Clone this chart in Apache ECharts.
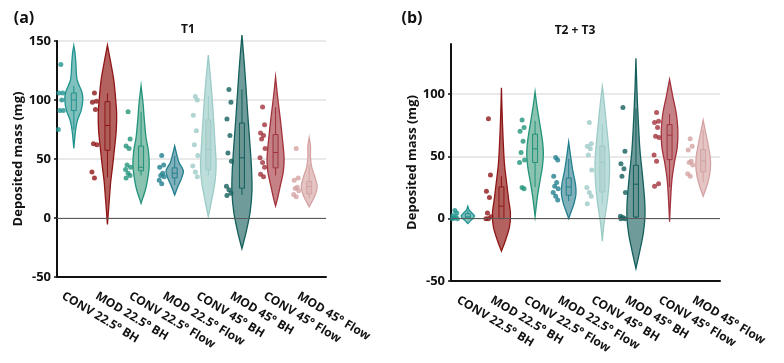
<!DOCTYPE html>
<html>
<head>
<meta charset="utf-8">
<script src="https://cdn.jsdelivr.net/npm/echarts@6.0.0/dist/echarts.min.js"></script>
<style>
  html, body { margin: 0; padding: 0; background: #fff; }
  #chart { width: 784px; height: 363px; }
</style>
</head>
<body>
<div id="chart"></div>
<script>
// groups on the x axis
const categories = ['CONV 22.5° BH', 'MOD 22.5° BH', 'CONV 22.5° Flow', 'MOD 22.5° Flow',
  'CONV 45° BH', 'MOD 45° BH', 'CONV 45° Flow', 'MOD 45° Flow']

const lineColors = ['#1f938f', '#8e1616', '#22937a', '#217f8e', '#9ccbc7', '#135f5c', '#a2323c', '#d5a2a3']
const fillColors = ['#80c1bd', '#b3625f', '#8ac3b0', '#80b1ba', '#bddedb', '#6f9c9a', '#c58186', '#e5c4c4']

// (a) T1 - individual measurements (mg)
const pointsA = [
  [130, 106, 106, 100, 91, 91, 75],
  [106, 99, 98, 92, 63, 62, 39, 34],
  [90, 67, 61, 59, 45, 43, 41, 38, 36, 34],
  [53, 45, 43, 38, 36, 35, 32, 29],
  [103, 100, 87, 74, 62, 53, 44, 39, 35],
  [109, 98, 84, 70, 55, 48, 27, 24, 21, 19],
  [94, 79, 72, 70, 67, 59, 51, 47, 43, 37, 35],
  [59, 34, 32, 26, 25, 23, 20, 18]
]
// violin outline: [value, relative density]
const violinA = [
  [[146, 0], [140, 0.12], [132, 0.2], [117, 0.33], [107, 0.8], [100, 0.9], [91, 0.73], [83, 0.37], [74, 0.17], [59, 0]],
  [[146.5, 0], [131.6, 0.33], [117, 0.63], [103, 0.8], [88.5, 0.92], [74, 0.88], [60, 0.72], [45, 0.53], [31, 0.33], [17, 0.2], [-5.5, 0]],
  [[112, 0], [97, 0.2], [83, 0.33], [68, 0.5], [57, 0.73], [45, 0.82], [37, 0.73], [25, 0.47], [12.5, 0]],
  [[61, 0], [54, 0.2], [47, 0.43], [40, 0.87], [34, 0.7], [27, 0.33], [19.5, 0]],
  [[138, 0], [123, 0.17], [103, 0.37], [83, 0.53], [63, 0.67], [45, 0.78], [31, 0.67], [17, 0.38], [1, 0]],
  [[155, 0], [131.6, 0.23], [108.6, 0.42], [85.6, 0.6], [62.6, 0.8], [39.7, 0.97], [22.4, 1.0], [5.2, 0.82], [-12, 0.42], [-26, 0]],
  [[119.5, 0], [103, 0.2], [85.6, 0.45], [68.4, 0.67], [51, 0.85], [39.7, 0.78], [28.2, 0.5], [16.7, 0.2], [10.3, 0]],
  [[68, 0], [61, 0.13], [51, 0.13], [42.5, 0.27], [34, 0.6], [26.7, 0.8], [19.5, 0.6], [9.5, 0]]
]
// box: [low whisker, q1, median, q3, high whisker]
const boxA = [
  [75, 91, 100, 106, 112],
  [34.5, 57.4, 78.4, 98.6, 105.8],
  [36, 40, 43, 61, 90],
  [28, 34, 38, 42.5, 52.6],
  [36, 41, 58, 83, 103],
  [19.5, 25.3, 51, 80.5, 109],
  [36, 42.5, 55.5, 70.7, 94],
  [16.7, 20.4, 26.7, 31, 45]
]

// (b) T2 + T3
const pointsB = [
  [6.5, 4.5, 2.5, 1.5, 0.5, 0, 0],
  [80, 35, 22, 17, 4.5, 1.5, 0, 0],
  [79, 73, 70, 62, 53, 47, 45, 25, 24],
  [49, 47, 34, 29, 26, 24, 21, 18, 15],
  [77, 60, 58, 56, 51, 39, 25, 21, 18, 12],
  [89, 54, 44, 40, 34, 21, 2, 1, 0, 0],
  [85, 78, 77, 73, 66, 65, 51, 46, 28, 26],
  [64, 58, 55, 46, 45, 43, 36, 34]
]
const violinB = [
  [[10, 0], [7, 0.13], [4, 0.47], [2, 0.67], [0, 0.5], [-2, 0.23], [-4, 0]],
  [[105, 0], [84, 0.07], [63, 0.17], [44, 0.3], [28, 0.53], [14.7, 0.73], [4, 0.9], [-6.8, 0.8], [-17.5, 0.4], [-26, 0]],
  [[101.7, 0], [89.6, 0.2], [76.2, 0.47], [62.9, 0.73], [52.2, 0.83], [41.4, 0.73], [30.7, 0.5], [17.3, 0.23], [1.6, 0]],
  [[61.5, 0], [49.5, 0.2], [38.8, 0.4], [28.1, 0.67], [20, 0.73], [12, 0.53], [5.3, 0.23], [0, 0]],
  [[106, 0], [92.3, 0.2], [76.2, 0.4], [60.2, 0.6], [44.2, 0.73], [28.1, 0.67], [12.1, 0.47], [-3.9, 0.17], [-18, 0]],
  [[128.5, 0], [103, 0.1], [79, 0.23], [55, 0.4], [33.5, 0.67], [14.7, 0.87], [1.3, 0.9], [-12, 0.73], [-25.5, 0.4], [-40, 0]],
  [[111.6, 0], [97.7, 0.33], [84.3, 0.67], [70.9, 0.83], [57.5, 0.77], [44.2, 0.47], [30.7, 0.23], [14.7, 0.1], [-2.4, 0]],
  [[79, 0], [70.9, 0.2], [60.2, 0.47], [49.5, 0.7], [41.5, 0.73], [33.5, 0.6], [25.4, 0.33], [18, 0]]
]
const boxB = [
  [0, 0.5, 1.5, 4, 6.5],
  [0, 0, 10, 25.4, 34],
  [25.4, 45, 56, 67.7, 78.4],
  [14, 18.7, 25.4, 32.6, 48],
  [12, 21.4, 45, 58.3, 76],
  [0, 1.3, 27.6, 42.8, 88.4],
  [25.4, 47.3, 66.9, 75.4, 84],
  [29.4, 37.5, 46.3, 55.4, 71]
]

const FONT = '"Open Sans", "Noto Sans", sans-serif'
const VIOLIN_SCALE = 10   // px half-width for density 1
const BOX_HALF = 2.5
const DOT_SHIFT = -13
const jitter = [0, 2, -2, 1, -1, 2.5, -2.5]

const violinSeries = (xi, outlines, boxes) => ({
  type: 'custom',
  xAxisIndex: xi,
  yAxisIndex: xi,
  data: categories.map((c, i) => [i, boxes[i][2]]),
  encode: { x: 0, y: 1 },
  silent: true,
  z: 3,
  renderItem: (params, api) => {
    const i = api.value(0)
    const cx = api.coord([i, 0])[0]
    const y = v => api.coord([i, v])[1]
    const outline = outlines[i]
    const right = outline.map(p => [cx + p[1] * VIOLIN_SCALE, y(p[0])])
    const left = outline.slice().reverse().map(p => [cx - p[1] * VIOLIN_SCALE, y(p[0])])
    const [lo, q1, med, q3, hi] = boxes[i]
    const stroke = lineColors[i]
    return {
      type: 'group',
      children: [
        {
          type: 'polygon',
          shape: { points: right.concat(left), smooth: 0.3 },
          style: { fill: fillColors[i], stroke: stroke, lineWidth: 1.3 }
        },
        {
          type: 'line',
          shape: { x1: cx, y1: y(hi), x2: cx, y2: y(q3) },
          style: { stroke: stroke, lineWidth: 1 }
        },
        {
          type: 'line',
          shape: { x1: cx, y1: y(q1), x2: cx, y2: y(lo) },
          style: { stroke: stroke, lineWidth: 1 }
        },
        {
          type: 'rect',
          shape: { x: cx - BOX_HALF, y: y(q3), width: BOX_HALF * 2, height: y(q1) - y(q3) },
          style: { fill: 'rgba(0,0,0,0.04)', stroke: stroke, lineWidth: 1 }
        },
        {
          type: 'line',
          shape: { x1: cx - BOX_HALF, y1: y(med), x2: cx + BOX_HALF, y2: y(med) },
          style: { stroke: stroke, lineWidth: 1 }
        }
      ]
    }
  },
  markLine: {
    silent: true,
    symbol: 'none',
    label: { show: false },
    lineStyle: { color: '#5a5a5a', width: 1, type: 'solid' },
    data: [{ yAxis: 0 }]
  }
})

const dotSeries = (xi, points) => ({
  type: 'scatter',
  xAxisIndex: xi,
  yAxisIndex: xi,
  symbolSize: 5,
  silent: true,
  z: 4,
  data: points.flatMap((vals, i) => vals.map((v, j) => ({
    value: [i, v],
    symbolOffset: [DOT_SHIFT + jitter[j % jitter.length], 0],
    itemStyle: { color: lineColors[i] }
  })))
})

const baseX = (gridIndex) => ({
  gridIndex,
  type: 'category',
  data: categories,
  axisLine: { show: true, onZero: false, lineStyle: { color: '#111', width: 2 } },
  axisTick: { show: false },
  axisLabel: { show: false },
  splitLine: { show: false }
})

const labelX = (gridIndex) => ({
  gridIndex,
  type: 'category',
  data: categories,
  axisLine: { show: false },
  axisTick: { show: false },
  axisLabel: { rotate: -31, margin: 18, color: '#111', fontWeight: 'bold', fontSize: 12, fontFamily: FONT }
})

const baseY = (gridIndex, max, nameGap) => ({
  gridIndex,
  type: 'value',
  min: -50,
  max,
  interval: 50,
  name: 'Deposited mass (mg)',
  nameLocation: 'middle',
  nameGap,
  nameTextStyle: { color: '#111', fontWeight: 'bold', fontSize: 13, fontFamily: FONT },
  axisLine: { show: true, lineStyle: { color: '#111', width: 2 } },
  axisTick: { show: true, length: 3, lineStyle: { color: '#111', width: 1.5 } },
  axisLabel: { color: '#111', fontWeight: 'bold', fontSize: 13, margin: 6, fontFamily: FONT, showMaxLabel: max % 50 === 0 },
  splitLine: { show: true, showMinLine: false, showMaxLine: max % 50 === 0, lineStyle: { color: '#e2e2e2', width: 1.5 } }
})

const hiddenY = (gridIndex, max) => ({ gridIndex, type: 'value', min: -50, max, show: false })

const chart = echarts.init(document.getElementById('chart'), null, { renderer: 'canvas' })
chart.setOption({
  backgroundColor: '#fff',
  animation: false,
  textStyle: { fontFamily: FONT },
  grid: [
    { left: 57, top: 41, width: 269, height: 236 },
    { left: 451, top: 44, width: 269, height: 237 },
    { left: 46, top: 41, width: 269, height: 236 },
    { left: 441, top: 44, width: 269, height: 237 }
  ],
  xAxis: [baseX(0), baseX(1), labelX(2), labelX(3)],
  yAxis: [baseY(0, 150, 31), baseY(1, 140, 29), hiddenY(2, 150), hiddenY(3, 140)],
  graphic: [
    { type: 'text', x: 24, y: 18, style: { text: '(a)', font: 'bold 16px ' + FONT, fill: '#111', textAlign: 'center', textVerticalAlign: 'middle' } },
    { type: 'text', x: 412, y: 18, style: { text: '(b)', font: 'bold 16px ' + FONT, fill: '#111', textAlign: 'center', textVerticalAlign: 'middle' } },
    { type: 'text', x: 188, y: 30, style: { text: 'T1', font: 'bold 12px ' + FONT, fill: '#111', textAlign: 'center', textVerticalAlign: 'middle' } },
    { type: 'text', x: 575, y: 31, style: { text: 'T2 + T3', font: 'bold 12px ' + FONT, fill: '#111', textAlign: 'center', textVerticalAlign: 'middle' } }
  ],
  series: [
    violinSeries(0, violinA, boxA),
    dotSeries(0, pointsA),
    violinSeries(1, violinB, boxB),
    dotSeries(1, pointsB)
  ]
})
</script>
</body>
</html>
